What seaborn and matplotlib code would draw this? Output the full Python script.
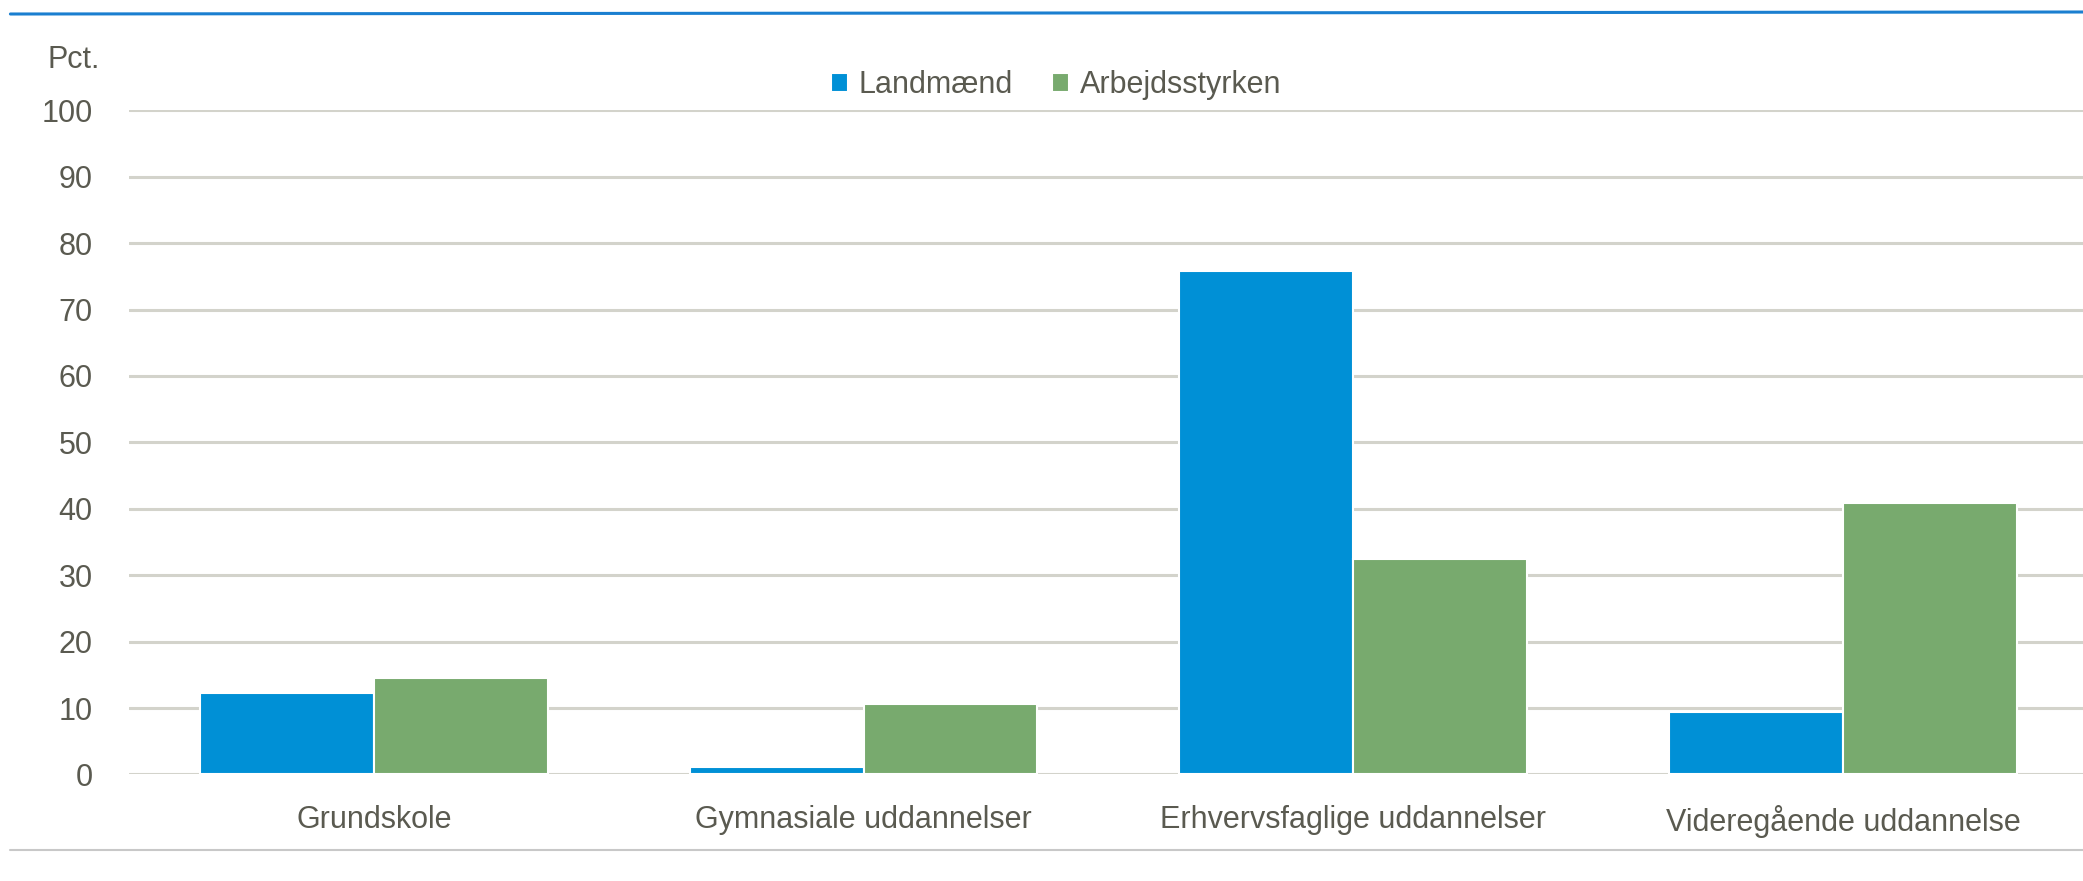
import pandas as pd
import matplotlib.pyplot as plt
import seaborn as sns
from matplotlib.lines import Line2D

# Data
categories = ['Grundskole', 'Gymnasiale uddannelser', 'Erhvervsfaglige uddannelser', 'Videregående uddannelse']
landmaend = [12.2, 1.2, 75.8, 9.4]
arbejdsstyrken = [14.6, 10.6, 32.4, 40.8]
series_names = ['Landmænd', 'Arbejdsstyrken']
y_ticks = list(range(0, 101, 10))

data = pd.DataFrame({
    'kategori': categories * 2,
    'serie': [series_names[0]] * 4 + [series_names[1]] * 4,
    'pct': landmaend + arbejdsstyrken,
})

sns.set_theme(style='white')
plt.rcParams['font.family'] = ['Liberation Sans', 'DejaVu Sans']
text_color = '#5a5a50'
grid_color = '#d3d3cb'

fig = plt.figure(figsize=(20.83, 8.81), dpi=100)
ax = fig.add_axes([0.0619, 0.1209, 0.9381, 0.7539])

sns.barplot(data=data, x='kategori', y='pct', hue='serie', ax=ax,
            palette=['#0090d6', '#78aa6e'], width=0.71,
            edgecolor='white', linewidth=1.5, saturation=1)

ax.set_ylim(0, 100)
ax.set_xlim(-0.5, 3.49)
ax.set_yticks(y_ticks)
ax.set_yticklabels([str(t) for t in y_ticks])
ax.yaxis.grid(True, color=grid_color, linewidth=2.2)
ax.set_axisbelow(True)
for s in ax.spines.values():
    s.set_visible(False)
ax.tick_params(axis='y', length=0, pad=26, labelsize=22, labelcolor=text_color)
ax.tick_params(axis='x', length=0, pad=22, labelsize=22, labelcolor=text_color)
ax.set_xlabel('')
ax.set_ylabel('')

# legend centred above the top gridline
ax.legend(loc='center', bbox_to_anchor=(0.507, 0.903), bbox_transform=fig.transFigure,
          ncol=2, frameon=False, fontsize=22, handlelength=0.55, handleheight=0.55,
          handletextpad=0.35, columnspacing=1.3, labelcolor=text_color)

fig.text(47 / 2083, 1 - 60 / 881, 'Pct.', fontsize=22, color=text_color, ha='left', va='center')

# frame lines at top and bottom of the picture
fig.add_artist(Line2D([0.005, 1.0], [1 - 14 / 881, 1 - 12 / 881], color='#1a7fd0', linewidth=2.2,
                      transform=fig.transFigure))
fig.add_artist(Line2D([0.005, 1.0], [1 - 850 / 881, 1 - 850 / 881], color='#c8c8c8', linewidth=1.5,
                      transform=fig.transFigure))

fig.savefig('out.png', dpi=100, facecolor='white')
